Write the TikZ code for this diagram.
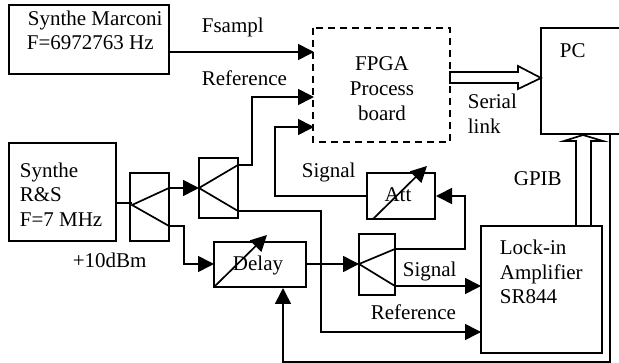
\documentclass[tikz,border=0pt]{standalone}
\usepackage{fontspec}
\setmainfont{Liberation Serif}
\usetikzlibrary{arrows.meta}
\tikzset{
  x=1pt,y=-1pt,
  every path/.style={line width=1.7pt,line join=miter},
  box/.style={draw,line width=1.8pt},
  lbl/.style={font=\fontsize{21}{24}\selectfont,inner sep=0,anchor=base west},
  lblc/.style={font=\fontsize{21}{24}\selectfont,inner sep=0,anchor=base},
  tip/.style={-{Triangle[length=16pt,width=16pt]}}
}
\begin{document}
\begin{tikzpicture}
\useasboundingbox (0,0) rectangle (619,363);
% boxes
\draw[box] (9,5) rectangle (169,74);
\draw[box] (9,143) rectangle (116,241);
\draw[box] (130,173) rectangle (169,241);
\draw[box] (199,158) rectangle (238,218);
\draw[box] (214,242) rectangle (306,287);
\draw[box] (367,173) rectangle (435,219);
\draw[box] (359,234) rectangle (395,295);
\draw[box] (481,226) rectangle (602,353);
\draw[box] (621,28) -- (541,28) -- (541,134) -- (621,134);
\draw[box,dash pattern=on 7pt off 5pt] (313,28) rectangle (450,142);
% splitters
\draw (169,188) -- (132,205) -- (169,226);
\draw (238,165) -- (199,188) -- (238,211);
\draw (395,249) -- (359,264) -- (395,286);
% texts
\node[lbl] at (27,26) {Synthe Marconi};
\node[lbl] at (26,50) {F=6972763 Hz};
\node[lbl] at (19,178) {Synthe};
\node[lbl] at (19,202) {R\&S};
\node[lbl] at (19,227) {F=7 MHz};
\node[lbl] at (72,268) {+10dBm};
\node[lbl] at (201,33) {Fsampl};
\node[lbl] at (201,86) {Reference};
\node[lblc] at (382,71) {FPGA};
\node[lblc] at (382,96) {Process};
\node[lblc] at (382,121) {board};
\node[lbl] at (467,109) {Serial};
\node[lbl] at (467,134) {link};
\node[lbl] at (559,58) {PC};
\node[lbl] at (301,178) {Signal};
\node[lblc] at (398,202) {Att};
\node[lblc] at (258,271) {Delay};
\node[lbl] at (402,277) {Signal};
\node[lbl] at (370,320) {Reference};
\node[lbl] at (513,186) {GPIB};
\node[lbl] at (499,255) {Lock-in};
\node[lbl] at (499,280) {Amplifier};
\node[lbl] at (499,304) {SR844};
% connectors
\draw[tip] (169,52) -- (314,52);
\draw[tip] (238,165) -- (252,165) -- (252,97) -- (314,97);
\draw[tip] (367,196) -- (275,196) -- (275,127) -- (314,127);
\draw (116,203) -- (132,203);
\draw[tip] (169,188) -- (199,188);
\draw[tip] (169,226) -- (184,226) -- (184,264) -- (214,264);
\draw[tip] (306,264) -- (359,264);
\draw[tip] (395,249) -- (465,249) -- (465,196) -- (436,196);
\draw[tip] (395,286) -- (481,286);
\draw[tip] (238,211) -- (321,211) -- (321,332) -- (481,332);
\draw[tip] (610,134) -- (610,362) -- (283,362) -- (283,288);
% variable arrows
\draw[tip] (214,287) -- (267,235);
\draw[tip] (373,219) -- (427,166);
% wide arrows
\draw (450,72) -- (518,72) -- (518,66) -- (541,78) -- (518,89) -- (518,83) -- (450,83) -- cycle;
\draw (576,226) -- (576,141) -- (564,141) -- (583,135) -- (603,141) -- (591,141) -- (591,226);
\end{tikzpicture}
\end{document}
